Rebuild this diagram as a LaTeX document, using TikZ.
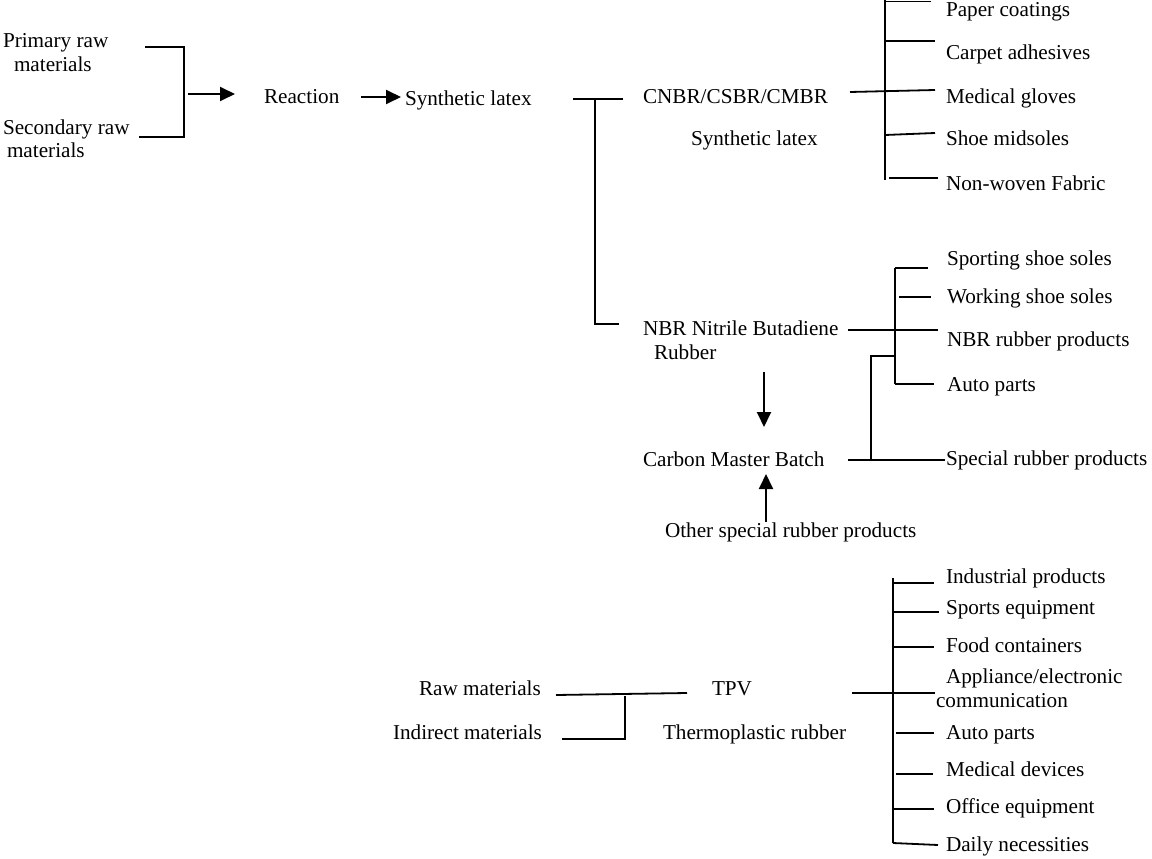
\documentclass[tikz,border=0pt]{standalone}
\usepackage{fontspec}
\setmainfont{Liberation Serif}
\usetikzlibrary{arrows.meta}
\begin{document}
\begin{tikzpicture}[x=1pt,y=-1pt,
  lbl/.style={inner sep=0pt,outer sep=0pt,anchor=base west,font=\fontsize{21.2}{25}\selectfont},
  ln/.style={line width=1.8pt,line cap=butt,line join=miter},
  arr/.style={line width=1.9pt,-{Triangle[length=15pt,width=14pt]}}]
\fill[white] (0,0) rectangle (1152,859);
\useasboundingbox (0,0) rectangle (1152,859);

% ---------- top-left block ----------
\node[lbl] (prim1) at (3,48) {Primary raw};
\node[lbl] (prim2) at (14,72) {materials};
\node[lbl] (sec1) at (3,134) {Secondary raw};
\node[lbl] (sec2) at (7,157) {materials};
\node[lbl] (reaction) at (264,103) {Reaction};
\node[lbl] (synlatex) at (405,106) {Synthetic latex};

\coordinate (bt) at (145,47);
\coordinate (bc) at (184,47);
\coordinate (bb) at (184,137);
\coordinate (bl) at (139,137);
\draw[ln] (bt) -- (bc) -- (bb) -- (bl);
\coordinate (a1s) at (188,94);
\coordinate (a1e) at (235,94);
\draw[arr] (a1s) -- (a1e);
\coordinate (a2s) at (361,97);
\coordinate (a2e) at (401,97);
\draw[arr] (a2s) -- (a2e);

% ---------- split T ----------
\coordinate (tl) at (573,99);
\coordinate (tr) at (623,99);
\coordinate (tm) at (595,99);
\coordinate (tb) at (595,324);
\coordinate (tbe) at (619,324);
\draw[ln] (tl) -- (tr);
\draw[ln] (tm) -- (tb) -- (tbe);

% ---------- CNBR branch ----------
\node[lbl] (cnbr) at (643,103) {CNBR/CSBR/CMBR};
\node[lbl] (cnbr2) at (691,146) {Synthetic latex};
\node[lbl] (p1) at (946,17) {Paper coatings};
\node[lbl] (p2) at (946,60) {Carpet adhesives};
\node[lbl] (p3) at (946,103) {Medical gloves};
\node[lbl] (p4) at (946,146) {Shoe midsoles};
\node[lbl] (p5) at (946,190) {Non-woven Fabric};

\coordinate (cv1) at (885,0);
\coordinate (cv2) at (885,180);
\draw[ln] (cv1) -- (cv2);
\coordinate (c0) at (850,92);
\coordinate (c3e) at (935,90);
\draw[ln] (c0) -- (c3e);
\coordinate (c1s) at (885,1.5);  \coordinate (c1e) at (931,1.5);
\coordinate (c2s) at (885,41);   \coordinate (c2e) at (935,41);
\coordinate (c4s) at (885,135);  \coordinate (c4e) at (935,133);
\coordinate (c5s) at (889,178);  \coordinate (c5e) at (938,178);
\draw[ln] (c1s) -- (c1e);
\draw[ln] (c2s) -- (c2e);
\draw[ln] (c4s) -- (c4e);
\draw[ln] (c5s) -- (c5e);

% ---------- NBR branch ----------
\node[lbl] (nbr1) at (643,335) {NBR Nitrile Butadiene};
\node[lbl] (nbr2) at (654,359) {Rubber};
\node[lbl] (cmb) at (643,466) {Carbon Master Batch};
\node[lbl] (other) at (665,537) {Other special rubber products};
\node[lbl] (n1) at (947,265) {Sporting shoe soles};
\node[lbl] (n2) at (947,303) {Working shoe soles};
\node[lbl] (n3) at (947,346) {NBR rubber products};
\node[lbl] (n4) at (947,391) {Auto parts};
\node[lbl] (n5) at (946,465) {Special rubber products};

\coordinate (nv1) at (895,268);
\coordinate (nv2) at (895,384);
\draw[ln] (nv1) -- (nv2);
\coordinate (n0) at (848,330);
\coordinate (n3e) at (938,330);
\draw[ln] (n0) -- (n3e);
\coordinate (n1e) at (928,268);
\draw[ln] (nv1) -- (n1e);
\coordinate (n2s) at (899,297); \coordinate (n2e) at (931,297);
\draw[ln] (n2s) -- (n2e);
\coordinate (n4e) at (934,384);
\draw[ln] (nv2) -- (n4e);
\coordinate (sj) at (895,356);
\coordinate (st) at (871,356);
\coordinate (sb) at (871,460);
\draw[ln] (sj) -- (st) -- (sb);
\coordinate (m0) at (848,460);
\coordinate (m5e) at (945,460);
\draw[ln] (m0) -- (m5e);

\coordinate (d1) at (764,372);
\coordinate (d2) at (764,427);
\draw[arr] (d1) -- (d2);
\coordinate (u1) at (766,522);
\coordinate (u2) at (766,474);
\draw[arr] (u1) -- (u2);

% ---------- TPV block ----------
\node[lbl] (raw) at (419,695) {Raw materials};
\node[lbl] (ind) at (393,739) {Indirect materials};
\node[lbl] (tpv) at (712,695) {TPV};
\node[lbl] (tpr) at (663,739) {Thermoplastic rubber};

\coordinate (r0) at (556,695);
\coordinate (r1) at (687,693);
\draw[ln] (r0) -- (r1);
\coordinate (iv1) at (625,696);
\coordinate (iv2) at (625,739);
\coordinate (i0) at (562,739);
\draw[ln] (iv1) -- (iv2) -- (i0);

\node[lbl] (t1) at (946,583) {Industrial products};
\node[lbl] (t2) at (946,614) {Sports equipment};
\node[lbl] (t3) at (946,652) {Food containers};
\node[lbl] (t4) at (946,683) {Appliance/electronic};
\node[lbl] (t4b) at (936,707) {communication};
\node[lbl] (t5) at (946,739) {Auto parts};
\node[lbl] (t6) at (946,776) {Medical devices};
\node[lbl] (t7) at (946,813) {Office equipment};
\node[lbl] (t8) at (946,851) {Daily necessities};

\coordinate (tv1) at (893,578);
\coordinate (tv2) at (893,843);
\draw[ln] (tv1) -- (tv2);
\coordinate (tp0) at (852,693);
\coordinate (tp4) at (935,693);
\draw[ln] (tp0) -- (tp4);
\coordinate (e1s) at (893,583); \coordinate (e1e) at (934,583);
\coordinate (e2s) at (893,612); \coordinate (e2e) at (939,612);
\coordinate (e3s) at (893,647); \coordinate (e3e) at (934,647);
\coordinate (e5s) at (896,733); \coordinate (e5e) at (934,733);
\coordinate (e6s) at (896,774); \coordinate (e6e) at (933,774);
\coordinate (e7s) at (893,809); \coordinate (e7e) at (934,809);
\coordinate (e8s) at (893,843); \coordinate (e8e) at (938,845);
\draw[ln] (e1s) -- (e1e);
\draw[ln] (e2s) -- (e2e);
\draw[ln] (e3s) -- (e3e);
\draw[ln] (e5s) -- (e5e);
\draw[ln] (e6s) -- (e6e);
\draw[ln] (e7s) -- (e7e);
\draw[ln] (e8s) -- (e8e);
\end{tikzpicture}
\end{document}
